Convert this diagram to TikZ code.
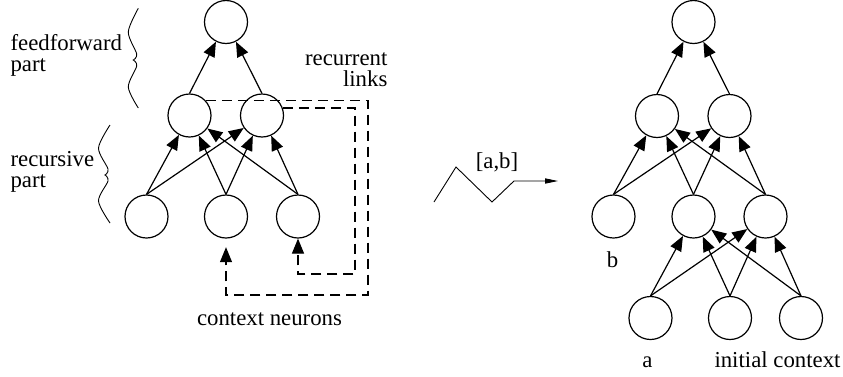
\documentclass[tikz,border=0pt]{standalone}
\usepackage{fontspec}
\setmainfont{Liberation Serif}
\usetikzlibrary{arrows.meta}

\begin{document}
\begin{tikzpicture}[x=0.5pt,y=-0.5pt,line width=0.6pt,
    neuron/.style={draw,circle,minimum size=21.5pt,inner sep=0pt},
    link/.style={-{Triangle[length=7.5pt,width=6pt]}},
    recur/.style={link,dash pattern=on 5pt off 3pt},
    brace/.style={line width=0.45pt},
    lbl/.style={font=\fontsize{11.4}{10.5}\selectfont,inner sep=0pt}]
  \useasboundingbox (0,0) rectangle (843,376);
  % recursive network
  \node[neuron] (out) at (226,22) {};
  \node[neuron] (h1) at (189.5,115.5) {};
  \node[neuron] (h2) at (262,115.5) {};
  \node[neuron] (in1) at (146.5,216.5) {};
  \node[neuron] (in2) at (226,216.5) {};
  \node[neuron] (in3) at (298,216.5) {};
  \foreach \s in {h1,h2} \draw[link] (\s.north) -- (out);
  \foreach \s in {in1,in2,in3}
    \foreach \t in {h1,h2} \draw[link] (\s.north) -- (\t);
  \coordinate (farloop) at (368,295);
  \coordinate (nearloop) at (355,274);
  \draw[recur,shorten >=4.3pt] (h1.42) -| (farloop) -| (in2.south);
  \draw[recur] (h2.20) -| (nearloop) -| (in3.south);
  \draw[brace] plot[smooth] coordinates {(138.3,8.3) (128.3,32) (136.7,54) (133.3,60)}
    -- plot[smooth] coordinates {(133.3,60) (136.7,66) (128.3,87) (138.3,108)};
  \draw[brace] plot[smooth] coordinates {(110,125) (98.5,148) (108,169) (105,175)}
    -- plot[smooth] coordinates {(105,175) (108,181) (98.5,201) (110,223)};
  \node[lbl,anchor=base west,align=left] (ffwd) at (10,71) {feedforward\\part};
  \node[lbl,anchor=base west,align=left] (rcsv) at (10,187.7) {recursive\\part};
  \node[lbl,anchor=base east,align=right] (rlinks) at (388,86.7) {recurrent\\links};
  \node[lbl,anchor=base] (ctx) at (269.5,325) {context neurons};
  % unfolding
  \coordinate (z0) at (434,202);
  \coordinate (z1) at (456,167);
  \coordinate (z2) at (492,202);
  \coordinate (z3) at (514,181);
  \coordinate (z4) at (558,181);
  \draw[line width=0.45pt,-{Triangle[length=6.5pt,width=2.6pt]}] (z0) -- (z1) -- (z2) -- (z3) -- (z4);
  \node[lbl,anchor=base] (seq) at (497,168) {[a,b]};
  % unfolded network
  \node[neuron] (uout) at (693.5,22) {};
  \node[neuron] (uh1) at (657,116) {};
  \node[neuron] (uh2) at (729.5,116) {};
  \node[neuron] (ub) at (613.5,216.5) {};
  \node[neuron] (uc1) at (693.5,216.5) {};
  \node[neuron] (uc2) at (765.5,216.5) {};
  \node[neuron] (ua) at (650.5,318) {};
  \node[neuron] (ui1) at (730,318) {};
  \node[neuron] (ui2) at (801,318) {};
  \foreach \s in {uh1,uh2} \draw[link] (\s.north) -- (uout);
  \foreach \s in {ub,uc1,uc2}
    \foreach \t in {uh1,uh2} \draw[link] (\s.north) -- (\t);
  \foreach \s in {ua,ui1,ui2}
    \foreach \t in {uc1,uc2} \draw[link] (\s.north) -- (\t);
  \node[lbl,anchor=base] (blbl) at (612.5,267) {b};
  \node[lbl,anchor=base] (albl) at (647.5,367) {a};
  \node[lbl,anchor=base] (ilbl) at (777.5,367) {initial context};
\end{tikzpicture}
\end{document}
